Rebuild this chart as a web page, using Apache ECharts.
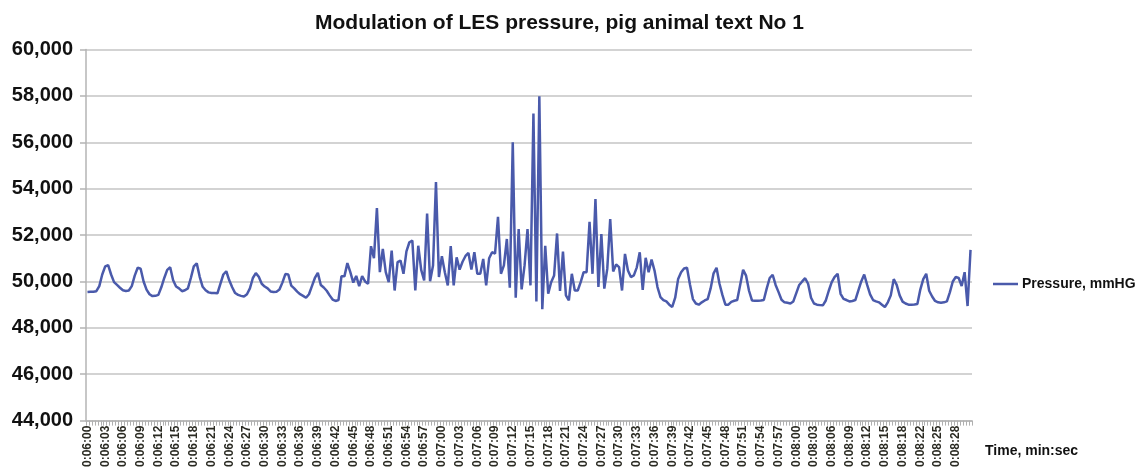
<!DOCTYPE html>
<html>
<head>
<meta charset="utf-8">
<title>Modulation of LES pressure</title>
<script src="https://cdn.jsdelivr.net/npm/echarts@6/dist/echarts.min.js"></script>
<style>
    html, body { margin: 0; padding: 0; background: #fff; }
    #main { width: 1136px; height: 470px; }
</style>
</head>
<body>
<div id="main"></div>
<script>
// tick labels, one every 6 samples
var tickLabels = [
    '0:06:00', '0:06:03', '0:06:06', '0:06:09', '0:06:12', '0:06:15', '0:06:18', '0:06:21', '0:06:24', '0:06:27',
    '0:06:30', '0:06:33', '0:06:36', '0:06:39', '0:06:42', '0:06:45', '0:06:48', '0:06:51', '0:06:54', '0:06:57',
    '0:07:00', '0:07:03', '0:07:06', '0:07:09', '0:07:12', '0:07:15', '0:07:18', '0:07:21', '0:07:24', '0:07:27',
    '0:07:30', '0:07:33', '0:07:36', '0:07:39', '0:07:42', '0:07:45', '0:07:48', '0:07:51', '0:07:54', '0:07:57',
    '0:08:00', '0:08:03', '0:08:06', '0:08:09', '0:08:12', '0:08:15', '0:08:18', '0:08:22', '0:08:25', '0:08:28'
];

// pressure, mmHG
var pressure = [
    49550, 49560, 49560, 49580, 49800, 50300, 50650, 50700, 50300, 49970,
    49850, 49730, 49620, 49590, 49610, 49800, 50250, 50590, 50550, 50000,
    49650, 49450, 49370, 49380, 49420, 49750, 50150, 50500, 50610, 50050,
    49780, 49700, 49580, 49620, 49700, 50150, 50650, 50780, 50200, 49770,
    49620, 49530, 49500, 49500, 49490, 49900, 50300, 50440, 50050, 49750,
    49500, 49420, 49380, 49350, 49450, 49700, 50150, 50360, 50200, 49900,
    49780, 49700, 49570, 49550, 49560, 49650, 49950, 50320, 50300, 49820,
    49700, 49560, 49450, 49380, 49300, 49450, 49800, 50150, 50370, 49850,
    49740, 49600, 49400, 49220, 49160, 49200, 50230, 50220, 50790, 50400,
    49950, 50240, 49800, 50230, 50000, 49900, 51520, 51000, 53160, 50400,
    51400, 50400, 49970, 51330, 49610, 50830, 50900, 50330, 51300, 51690,
    51760, 49610, 51540, 50500, 50040, 52930, 50010, 50690, 54290, 50190,
    51090, 50400, 49830, 51520, 49830, 51040, 50510, 50850, 51100, 51230,
    50510, 51260, 50330, 50330, 50970, 49830, 51000, 51260, 51200, 52790,
    50330, 50690, 51830, 49730, 56000, 49300, 52260, 49660, 50690, 52260,
    49830, 57240, 49140, 57980, 48800, 51540, 49470, 49970, 50260, 52070,
    49590, 51290, 49400, 49180, 50330, 49610, 49610, 49970, 50400, 50400,
    52570, 50330, 53550, 49760, 52040, 49690, 50540, 52690, 50430, 50730,
    50620, 49610, 51190, 50470, 50190, 50260, 50610, 51260, 49640, 51020,
    50400, 50940, 50470, 49760, 49330, 49200, 49140, 49000, 48900, 49300,
    50110, 50400, 50560, 50590, 49870, 49240, 49050, 49000, 49100, 49180,
    49240, 49700, 50350, 50590, 49900, 49410, 49000, 49000, 49120, 49170,
    49200, 49850, 50500, 50250, 49600, 49180, 49170, 49170, 49180, 49200,
    49700, 50150, 50290, 49850, 49540, 49210, 49100, 49080, 49050, 49140,
    49500, 49850, 50000, 50140, 49900, 49300, 49050, 49000, 48980, 48970,
    49180, 49600, 49970, 50200, 50330, 49470, 49250, 49200, 49140, 49160,
    49200, 49600, 50000, 50300, 49850, 49440, 49200, 49140, 49100, 49000,
    48900, 49100, 49400, 50100, 49850, 49400, 49130, 49050, 49000, 49000,
    49010, 49030, 49650, 50100, 50330, 49600, 49350, 49160, 49100, 49080,
    49100, 49140, 49530, 50000, 50190, 50150, 49800, 50400, 48940, 51360
];

var yMin = 44000, yMax = 60000, yStep = 2000;

// one category per sample, named after the tick label it belongs to
var categories = [];
for (var i = 0; i < pressure.length; i++) {
    var lbl = tickLabels[Math.floor(i / 6)] || tickLabels[tickLabels.length - 1];
    categories.push(i % 6 === 0 ? lbl : lbl + '.' + (i % 6));
}

var font = "'Liberation Sans', Arial, Helvetica, sans-serif";
var lineColor = '#4a5aab';

var chart = echarts.init(document.getElementById('main'), null, { renderer: 'canvas' });

chart.setOption({
    backgroundColor: '#fff',
    animation: false,
    title: [{
        text: 'Modulation of LES pressure, pig animal text No 1',
        left: 315,
        top: 13,
        padding: 0,
        textStyle: { fontFamily: font, fontSize: 21, fontWeight: 'bold', color: '#111' }
    }, {
        text: 'Time, min:sec',
        left: 985,
        top: 444,
        padding: 0,
        textStyle: { fontFamily: font, fontSize: 14, fontWeight: 'bold', color: '#111' }
    }],
    legend: {
        left: 993,
        top: 277,
        padding: 0,
        icon: 'rect',
        itemWidth: 25,
        itemHeight: 2.5,
        itemGap: 6,
        textStyle: { fontFamily: font, fontSize: 14, fontWeight: 'bold', color: '#111', padding: [0, 0, 0, -1] },
        data: ['Pressure, mmHG']
    },
    grid: {
        left: 86,
        right: 164,
        top: 49.5,
        bottom: 47.5,
        containLabel: false
    },
    xAxis: {
        type: 'category',
        data: categories,
        boundaryGap: true,
        axisLine: { lineStyle: { color: '#b4b4b4', width: 1.5 } },
        axisTick: { show: true, interval: 0, length: 5, lineStyle: { color: '#b0b0b0', width: 1 } },
        axisLabel: {
            interval: 5,
            rotate: 90,
            margin: 5,
            fontFamily: font,
            fontSize: 12,
            fontWeight: 'bold',
            color: '#2a2a22'
        },
        splitLine: { show: false }
    },
    yAxis: {
        type: 'value',
        min: yMin,
        max: yMax,
        interval: yStep,
        axisLine: { show: true, lineStyle: { color: '#b4b4b4', width: 1.5 } },
        axisTick: { show: true, length: 6, lineStyle: { color: '#b4b4b4', width: 1.5 } },
        axisLabel: {
            margin: 13,
            fontFamily: font,
            fontSize: 20,
            fontWeight: 'bold',
            color: '#111',
            formatter: function(v) {
                return echarts.format.addCommas(v);
            }
        },
        splitLine: { lineStyle: { color: '#c4c4c4', width: 1.5 } }
    },
    series: [{
        name: 'Pressure, mmHG',
        type: 'line',
        data: pressure,
        symbol: 'none',
        lineStyle: { color: lineColor, width: 2.5 },
        itemStyle: { color: lineColor }
    }]
});
</script>
</body>
</html>
